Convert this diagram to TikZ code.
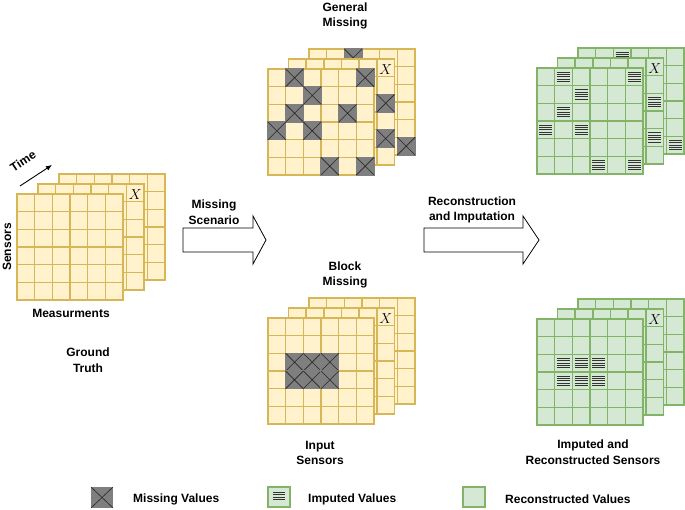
\documentclass[tikz,border=0pt]{standalone}
\usepackage{fontspec}
\setmainfont{Liberation Sans}
\usetikzlibrary{arrows.meta}
\definecolor{yfill}{HTML}{FFF2CC}
\definecolor{ydraw}{HTML}{D6B656}
\definecolor{gfill}{HTML}{D5E8D4}
\definecolor{gdraw}{HTML}{82B366}
\definecolor{mfill}{HTML}{7F7F7F}
\def\cs{17.67}
\newcommand\mygrid[3]{%
  \foreach \i in {0,...,5}{\foreach \j in {0,...,5}{%
    \draw[#3] ({#1+\i*\cs},{#2+\j*\cs}) rectangle ++(\cs,\cs);}}}
\newcommand\mcell[4]{%
  \fill[mfill] ({#1+#3*\cs-0.6},{#2+#4*\cs-0.6}) rectangle ++({\cs+1.2},{\cs+1.2});
  \draw[line width=0.6pt,black!85] ({#1+#3*\cs},{#2+#4*\cs}) -- ++(\cs,\cs)
     ({#1+(#3+1)*\cs},{#2+#4*\cs}) -- ++(-\cs,\cs);}
\newcommand\icell[4]{%
  \foreach \k in {0,...,4}{%
    \draw[line width=0.9pt,black!80] ({#1+#3*\cs+2.4},{#2+#4*\cs+4.2+\k*2.3}) -- ++({\cs-4.8},0);}}
\newcommand\xlab[3]{\node[xl] (#3) at ({#1+5.5*\cs},{#2+0.5*\cs+2}) {$X$};}
\tikzset{
  ycell/.style={draw=ydraw,fill=yfill,line width=1.5pt},
  gcell/.style={draw=gdraw,fill=gfill,line width=1.5pt},
  lbl/.style={font=\bfseries\fontsize{12}{15.5}\selectfont,align=center,inner sep=0pt},
  xl/.style={font=\fontsize{14}{14}\selectfont,inner sep=0pt},
  blockarrow/.style={draw=black,fill=white,line width=0.8pt,line join=miter}
}
\begin{document}
\begin{tikzpicture}[x=1pt,y=-1pt]
\useasboundingbox (0,0) rectangle (685,510);

% ---------------- Ground truth stack
\mygrid{59}{174}{ycell}
\mygrid{38}{184}{ycell}
\mygrid{17}{194}{ycell}
\xlab{38}{184}{xgt}

% ---------------- General missing stack
\mygrid{309}{49}{ycell}
\mcell{309}{49}{2}{0}\mcell{309}{49}{5}{5}
\mygrid{288.5}{59}{ycell}
\mcell{288.5}{59}{5}{2}\mcell{288.5}{59}{5}{4}
\mygrid{268}{69}{ycell}
\mcell{268}{69}{1}{0}\mcell{268}{69}{5}{0}
\mcell{268}{69}{2}{1}
\mcell{268}{69}{1}{2}\mcell{268}{69}{4}{2}
\mcell{268}{69}{0}{3}\mcell{268}{69}{2}{3}
\mcell{268}{69}{3}{5}\mcell{268}{69}{5}{5}
\xlab{288.5}{59}{xgm}

% ---------------- Block missing stack
\mygrid{309}{298}{ycell}
\mygrid{288.5}{308}{ycell}
\mygrid{268}{318}{ycell}
\mcell{268}{318}{1}{2}\mcell{268}{318}{2}{2}\mcell{268}{318}{3}{2}
\mcell{268}{318}{1}{3}\mcell{268}{318}{2}{3}\mcell{268}{318}{3}{3}
\xlab{288.5}{308}{xbm}

% ---------------- Imputed (general) stack
\mygrid{578}{48}{gcell}
\icell{578}{48}{2}{0}\icell{578}{48}{5}{5}
\mygrid{557.5}{58}{gcell}
\icell{557.5}{58}{5}{2}\icell{557.5}{58}{5}{4}
\mygrid{537}{68}{gcell}
\icell{537}{68}{1}{0}\icell{537}{68}{5}{0}
\icell{537}{68}{2}{1}
\icell{537}{68}{1}{2}
\icell{537}{68}{0}{3}\icell{537}{68}{2}{3}
\icell{537}{68}{3}{5}\icell{537}{68}{5}{5}
\xlab{557.5}{58}{xig}

% ---------------- Imputed (block) stack
\mygrid{578}{299}{gcell}
\mygrid{557.5}{309}{gcell}
\mygrid{537}{319}{gcell}
\icell{537}{319}{1}{2}\icell{537}{319}{2}{2}\icell{537}{319}{3}{2}
\icell{537}{319}{1}{3}\icell{537}{319}{2}{3}\icell{537}{319}{3}{3}
\xlab{557.5}{309}{xib}

% ---------------- Block arrows
\draw[blockarrow] (183,228) -- (253,228) -- (253,216) -- (266,240) -- (253,264) -- (253,252) -- (183,252) -- cycle;
\draw[blockarrow] (424,228) -- (523,228) -- (523,216) -- (539,240) -- (523,264) -- (523,252) -- (424,252) -- cycle;

% ---------------- Time arrow
\coordinate (ts) at (20,186);
\coordinate (te) at (52,165);
\draw[line width=0.9pt,-{Latex[length=6pt,width=5pt]}] (ts) -- (te);

% ---------------- Labels
\node[lbl,rotate=33] (time) at (23,161) {Time};
\node[lbl,rotate=90] (sens) at (7,247) {Sensors};
\node[lbl] (meas) at (71,313) {Measurments};
\node[lbl] (gt) at (88,360) {Ground\\Truth};
\node[lbl] (gm) at (345,16) {General\\Missing};
\node[lbl] (bm) at (345,275) {Block\\Missing};
\node[lbl] (ms) at (214,212) {Missing\\Scenario};
\node[lbl] (ri) at (472,210) {Reconstruction\\and Imputation};
\node[lbl] (is) at (320,453) {Input\\Sensors};
\node[lbl] (irs) at (593,452) {Imputed and\\Reconstructed Sensors};

% ---------------- Legend
\fill[mfill] (91,487) rectangle (113,508);
\draw[line width=0.6pt,black!85] (91,487) -- (113,508) (113,487) -- (91,508);
\node[lbl,anchor=west] (lm) at (133,499) {Missing Values};
\draw[gcell,line width=1.6pt] (268,487) rectangle (290,507);
\foreach \k in {0,...,3}{\draw[line width=0.9pt,black!80] (273,{492.5+\k*2.4}) -- (285,{492.5+\k*2.4});}
\node[lbl,anchor=west] (li) at (308,499) {Imputed Values};
\draw[gcell,line width=1.6pt] (463,487) rectangle (485,507);
\node[lbl,anchor=west] (lr) at (505,499) {Reconstructed Values};
\end{tikzpicture}
\end{document}
